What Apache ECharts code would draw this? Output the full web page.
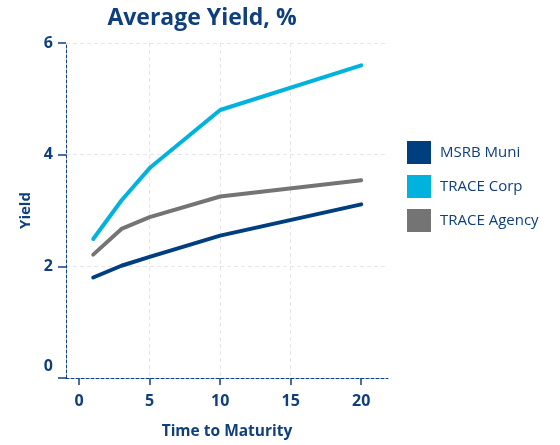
<!DOCTYPE html>
<html>
<head>
<meta charset="utf-8">
<script src="https://cdn.jsdelivr.net/npm/echarts@6/dist/echarts.min.js"></script>
<style>
  html, body { margin: 0; padding: 0; background: #fff; }
  #chart1 { width: 560px; height: 445px; }
</style>
</head>
<body>
<div id="chart1"></div>
<script>
'use strict';

// maturities (years) and average yields
var maturities = [1, 3, 5, 10, 20];
var msrbMuni = [1.80, 2.01, 2.17, 2.55, 3.11];
var traceCorp = [2.49, 3.18, 3.76, 4.80, 5.60];
var traceAgency = [2.21, 2.67, 2.88, 3.25, 3.54];
var xTicks = [0, 5, 10, 15, 20];

var navy = '#0f3f7d';
var font = 'Open Sans';

function pairs(vals) {
    return maturities.map(function (m, i) {
        return [m, vals[i]];
    });
}

function line(name, vals, color) {
    return {
        name: name,
        type: 'line',
        data: pairs(vals),
        showSymbol: false,
        symbol: 'none',
        itemStyle: { color: color },
        lineStyle: { color: color, width: 4, cap: 'round', join: 'round' }
    };
}

var myChart1 = echarts.init(document.getElementById('chart1'));
var option = {
    animation: false,
    textStyle: { fontFamily: font },
    title: {
        text: 'Average Yield, %',
        left: 197,
        textAlign: 'center',
        top: 2,
        textStyle: { color: navy, fontSize: 23, fontWeight: 'bold', fontFamily: font }
    },
    legend: {
        orient: 'vertical',
        left: 407,
        top: 141,
        padding: 0,
        icon: 'rect',
        itemWidth: 24,
        itemHeight: 23,
        itemGap: 11,
        textStyle: { color: navy, fontSize: 15, fontFamily: font, padding: [0, 0, 0, 4] },
        data: ['MSRB Muni', 'TRACE Corp', 'TRACE Agency']
    },
    grid: {
        left: 66,
        right: 172,
        top: 43,
        bottom: 64,
        containLabel: false
    },
    xAxis: {
        type: 'value',
        min: -0.93,
        max: 21.9,
        name: 'Time to Maturity',
        nameLocation: 'middle',
        nameGap: 46,
        nameTextStyle: { color: navy, fontSize: 15.5, fontWeight: 'bold', fontFamily: font },
        axisLine: { show: true, onZero: false, lineStyle: { color: navy, width: 1, type: [3, 2] } },
        axisTick: { show: true, length: 7, customValues: xTicks, lineStyle: { color: navy, width: 1.5 } },
        axisLabel: { customValues: xTicks, color: navy, fontSize: 16, fontWeight: 'bold', margin: 15, fontFamily: font },
        splitLine: { show: true, showMinLine: false, showMaxLine: false, lineStyle: { color: '#e6e6e6', width: 1, type: [4, 3] } }
    },
    yAxis: {
        type: 'value',
        min: 0,
        max: 6,
        interval: 2,
        name: 'Yield',
        nameLocation: 'middle',
        nameGap: 31,
        nameTextStyle: { color: navy, fontSize: 15, fontWeight: 'bold', fontFamily: font },
        axisLine: { show: true, onZero: false, lineStyle: { color: navy, width: 1, type: [3, 2] } },
        axisTick: { show: true, length: 8, lineStyle: { color: navy, width: 1.5 } },
        axisLabel: {
            color: navy, fontSize: 16, fontWeight: 'bold', margin: 13, fontFamily: font,
            // the zero label sits a bit above its tick
            formatter: function (v) {
                return v === 0 ? '{z|0}' : String(v);
            },
            rich: {
                z: { color: navy, fontSize: 16, fontWeight: 'bold', fontFamily: font, padding: [0, 0, 24, 0] }
            }
        },
        splitLine: { show: true, showMinLine: false, lineStyle: { color: '#e6e6e6', width: 1, type: [4, 3] } }
    },
    series: [
        line('MSRB Muni', msrbMuni, '#003f7f'),
        line('TRACE Corp', traceCorp, '#00b3de'),
        line('TRACE Agency', traceAgency, '#747474')
    ]
};

myChart1.setOption(option);
</script>
</body>
</html>
